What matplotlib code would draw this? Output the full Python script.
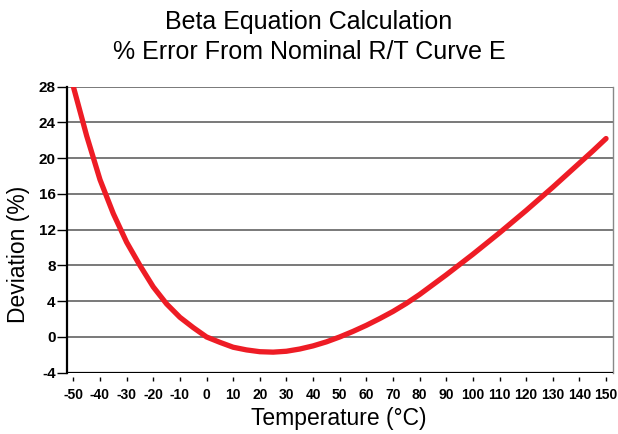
import matplotlib
matplotlib.use("Agg")
import matplotlib.pyplot as plt

temperature_c = [-50, -45, -40, -35, -30, -25, -20, -15, -10, -5, 0, 5, 10, 15, 20, 25,
                 30, 35, 40, 45, 50, 55, 60, 65, 70, 75, 80, 85, 90, 95, 100, 105,
                 110, 115, 120, 125, 130, 135, 140, 145, 150]
deviation_pct = [28.0, 22.5, 17.6, 13.8, 10.6, 8.0, 5.6, 3.7, 2.2, 1.05, 0.0, -0.6, -1.15,
                 -1.45, -1.65, -1.7, -1.6, -1.35, -1.0, -0.55, 0.0, 0.62, 1.3, 2.05,
                 2.85, 3.75, 4.75, 5.85, 6.95, 8.1, 9.25, 10.45, 11.65, 12.9, 14.15,
                 15.45, 16.75, 18.1, 19.45, 20.8, 22.2]

x_ticks = list(range(-50, 151, 10))
y_ticks = list(range(-4, 29, 4))

title_1 = "Beta Equation Calculation"
title_2 = "% Error From Nominal R/T Curve E"
x_label = "Temperature (°C)"
y_label = "Deviation (%)"

plt.rcParams['font.family'] = ['Liberation Sans', 'DejaVu Sans']

W, H = 618, 434
fig = plt.figure(figsize=(W / 100, H / 100), dpi=100)
left, right, top, bottom = 66.7, 612.7, 86.7, 372.7
ax = fig.add_axes([left / W, 1 - bottom / H, (right - left) / W, (bottom - top) / H])

ax.set_xlim(-52.5, 152.5)
ax.set_ylim(-4, 28)

# gridlines
for yv in y_ticks[1:]:
    ax.axhline(yv, color='#555555', lw=1.1, zorder=1)
ax.axhline(-4, color='black', lw=1.6, zorder=3)

ax.plot(temperature_c, deviation_pct, color='#ee1c25', lw=3.8,
        solid_capstyle='round', solid_joinstyle='round', zorder=4)

ax.spines['top'].set_visible(False)
ax.spines['right'].set_color('#888888')
ax.spines['right'].set_linewidth(1.0)
ax.spines['left'].set_color('black')
ax.spines['left'].set_linewidth(1.6)
ax.spines['bottom'].set_position(('outward', 3))
ax.spines['bottom'].set_visible(False)

ax.set_xticks(x_ticks)
ax.set_yticks(y_ticks)
ax.set_xticklabels([str(v) for v in x_ticks], fontweight='bold', fontsize=10)
ax.set_yticklabels([str(v) for v in y_ticks], fontweight='bold', fontsize=11)
ax.tick_params(axis='x', direction='out', length=3, width=1, color='black', pad=5)
ax.tick_params(axis='y', direction='out', length=7, width=1, color='black', pad=1)

fig.text(309 / W, 1 - 22 / H, title_1, ha='center', va='center', fontsize=18)
fig.text(309 / W, 1 - 52 / H, title_2, ha='center', va='center', fontsize=18)
fig.text(339 / W, 1 - 418 / H, x_label, ha='center', va='center', fontsize=16.5)
fig.text(19 / W, 1 - 254 / H, y_label, ha='center', va='center', fontsize=16.5, rotation=90)

fig.savefig("out.png", dpi=100)
